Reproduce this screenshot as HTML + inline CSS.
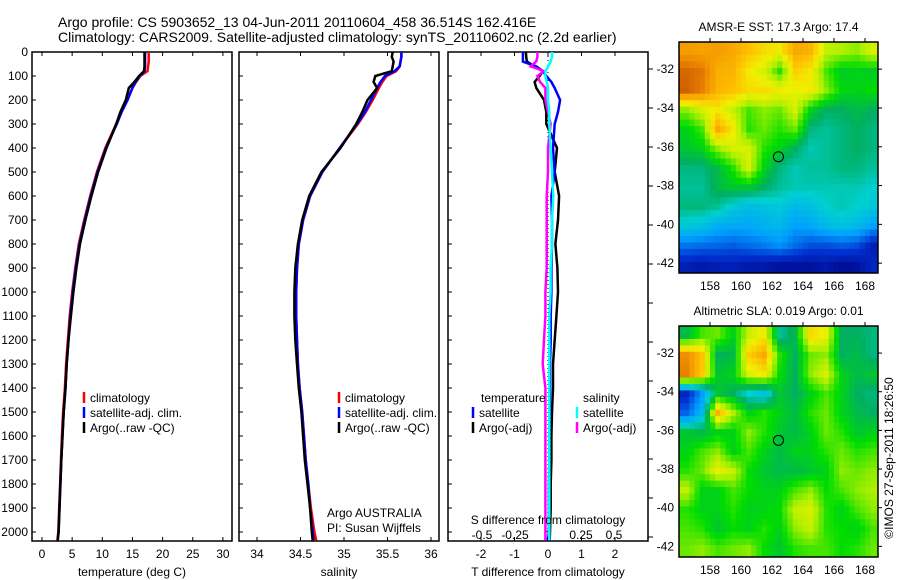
<!DOCTYPE html>
<html><head><meta charset="utf-8">
<style>
html,body{margin:0;padding:0;background:#fff;}
svg{display:block;font-family:"Liberation Sans",sans-serif;}
text{fill:#000;}
</style></head>
<body>
<svg id="chart" width="900" height="580" viewBox="0 0 900 580">
<text x="58" y="27" font-size="14">Argo profile: CS 5903652_13 04-Jun-2011 20110604_458 36.514S 162.416E</text>
<text x="58" y="42" font-size="14">Climatology: CARS2009. Satellite-adjusted climatology: synTS_20110602.nc (2.2d earlier)</text>
</svg>
<script>
const NS="http://www.w3.org/2000/svg";
const svg=document.getElementById('chart');
// ---------- data ----------
const depths=[0,20,40,60,80,100,125,150,200,250,300,400,500,600,700,800,900,1000,1100,1200,1300,1400,1500,1600,1700,1800,1900,2000,2035];
const tempClim=[17.7,17.7,17.7,17.6,17.5,16.3,15.6,15.0,14.1,13.2,12.3,10.5,9.1,8.0,7.0,6.1,5.5,5.0,4.6,4.3,4.0,3.8,3.5,3.3,3.15,3.0,2.85,2.7,2.55];
const tempSat=[17.1,17.1,17.1,17.1,17.0,16.2,15.5,15.0,14.2,13.2,12.4,10.6,9.2,8.1,7.1,6.2,5.6,5.1,4.7,4.4,4.1,3.9,3.6,3.4,3.2,3.05,2.9,2.75,2.6];
const tempArgo=[17.0,17.0,17.0,17.0,16.9,16.1,15.3,14.4,13.9,13.0,12.3,10.7,9.3,8.2,7.2,6.3,5.7,5.2,4.8,4.4,4.1,3.9,3.6,3.4,3.2,3.05,2.9,2.75,2.6];
const salClim=[35.66,35.66,35.65,35.64,35.6,35.49,35.44,35.40,35.33,35.25,35.16,34.95,34.75,34.61,34.53,34.48,34.46,34.45,34.45,34.46,34.47,34.49,34.52,34.54,34.56,34.59,34.62,34.66,34.68];
const salSat=[35.66,35.66,35.65,35.64,35.58,35.47,35.42,35.38,35.31,35.24,35.15,34.95,34.75,34.61,34.53,34.48,34.46,34.45,34.45,34.46,34.47,34.49,34.52,34.54,34.56,34.59,34.61,34.64,34.65];
const salArgo=[35.56,35.55,35.57,35.56,35.55,35.36,35.34,35.38,35.27,35.21,35.14,34.96,34.74,34.60,34.52,34.47,34.44,34.43,34.43,34.44,34.46,34.48,34.51,34.53,34.55,34.58,34.61,34.63,34.64];
const dTsat=[-0.75,-0.75,-0.75,-0.35,-0.15,-0.05,0.1,0.2,0.36,0.3,0.2,0.15,0.2,0.1,0.12,0.12,0.1,0.1,0.08,0.08,0.06,0.06,0.05,0.04,0.04,0.03,0.03,0.03,0.0];
const dTargo=[-0.66,-0.65,-0.63,-0.4,-0.15,-0.25,-0.4,-0.35,-0.12,-0.05,-0.05,0.27,0.2,0.33,0.3,0.22,0.28,0.3,0.25,0.2,0.15,0.15,0.12,0.1,0.1,0.08,0.08,0.06,0.05];
const dSsat=[0.03,0.03,0.02,0.0,-0.02,-0.02,-0.01,0.0,0.0,0.01,0.01,0.02,0.03,0.04,0.03,0.03,0.02,0.02,0.01,0.01,0.01,0.01,0.01,0.01,0.01,0.01,0.01,0.01,0.01];
const dSargo=[-0.08,-0.08,-0.09,-0.13,-0.03,-0.08,-0.06,-0.02,-0.02,0.0,0.02,0.0,0.0,-0.01,-0.01,-0.01,-0.01,-0.02,-0.02,-0.03,-0.04,-0.02,-0.02,-0.02,-0.02,-0.02,-0.02,-0.02,-0.02];
const depthTicks=[0,100,200,300,400,500,600,700,800,900,1000,1100,1200,1300,1400,1500,1600,1700,1800,1900,2000];
const tempTicks=[0,5,10,15,20,25,30];
const salTicks=[34,34.5,35,35.5,36];
const dTTicks=[-2,-1,0,1,2];
const dSTicks=[-0.5,-0.25,0,0.25,0.5];
const lonTicks=[158,160,162,164,166,168];
const latTicks=[-32,-34,-36,-38,-40,-42];
const sstGrid=[
[0.88,0.87,0.88,0.86,0.82,0.78,0.76,0.86,0.84,0.70,0.68,0.66,0.72],
[0.95,0.93,0.85,0.84,0.76,0.72,0.60,0.80,0.76,0.62,0.55,0.56,0.55],
[0.96,0.92,0.84,0.82,0.78,0.78,0.76,0.74,0.76,0.66,0.57,0.56,0.58],
[0.66,0.72,0.76,0.70,0.62,0.66,0.64,0.72,0.56,0.50,0.50,0.52,0.50],
[0.56,0.62,0.86,0.76,0.60,0.64,0.60,0.64,0.48,0.46,0.48,0.50,0.48],
[0.54,0.56,0.66,0.72,0.72,0.60,0.56,0.50,0.44,0.46,0.48,0.50,0.48],
[0.48,0.48,0.52,0.60,0.72,0.56,0.48,0.44,0.46,0.46,0.48,0.48,0.46],
[0.46,0.46,0.52,0.54,0.54,0.50,0.46,0.44,0.44,0.44,0.44,0.44,0.42],
[0.48,0.48,0.46,0.40,0.37,0.38,0.40,0.36,0.38,0.42,0.44,0.42,0.40],
[0.40,0.38,0.33,0.32,0.32,0.34,0.36,0.30,0.32,0.36,0.38,0.36,0.30],
[0.24,0.23,0.22,0.21,0.23,0.25,0.28,0.23,0.19,0.19,0.21,0.19,0.10],
[0.10,0.08,0.10,0.10,0.08,0.08,0.06,0.06,0.06,0.08,0.04,0.06,0.12]];
const slaGrid=[
[0.52,0.62,0.64,0.56,0.70,0.76,0.46,0.52,0.78,0.74,0.50,0.50,0.48],
[0.90,0.82,0.50,0.52,0.80,0.86,0.60,0.50,0.64,0.66,0.50,0.52,0.48],
[0.92,0.80,0.54,0.56,0.72,0.76,0.58,0.50,0.66,0.72,0.56,0.52,0.54],
[0.12,0.30,0.54,0.50,0.42,0.38,0.54,0.50,0.56,0.62,0.56,0.50,0.48],
[0.22,0.36,0.84,0.68,0.56,0.60,0.56,0.52,0.60,0.64,0.56,0.52,0.50],
[0.54,0.52,0.56,0.56,0.66,0.60,0.54,0.52,0.56,0.64,0.60,0.54,0.56],
[0.56,0.62,0.66,0.56,0.62,0.56,0.52,0.56,0.56,0.60,0.64,0.60,0.62],
[0.60,0.64,0.74,0.70,0.58,0.54,0.52,0.52,0.54,0.56,0.66,0.64,0.66],
[0.70,0.56,0.56,0.62,0.58,0.56,0.56,0.62,0.66,0.58,0.62,0.66,0.68],
[0.60,0.56,0.56,0.60,0.56,0.56,0.58,0.70,0.72,0.60,0.56,0.62,0.66],
[0.62,0.60,0.54,0.58,0.56,0.60,0.56,0.66,0.70,0.60,0.58,0.56,0.62],
[0.64,0.66,0.62,0.64,0.66,0.58,0.54,0.60,0.62,0.62,0.58,0.60,0.64]];
const gridLon0=156.0, gridLat0=-30.6;
const argoLon=162.416, argoLat=-36.514;

// ---------- helpers ----------
function el(tag,attrs,parent){const e=document.createElementNS(NS,tag);for(const k in attrs)e.setAttribute(k,attrs[k]);(parent||svg).appendChild(e);return e;}
function txt(x,y,s,size,anchor,parent){const t=el('text',{x:x,y:y,'font-size':size||12,'text-anchor':anchor||'start'},parent);t.textContent=s;return t;}
const yTop=52, yPer=0.24;
const yD=d=>yTop+d*yPer;
const P1={x0:32,x1:232}, P2={x0:239,x1:439}, P3={x0:448,x1:648};
const yBot=541;
const xT=v=>42+v*6.03;
const xS=v=>257+(v-34)*87;
const xDT=v=>548+v*33.5;
const xDS=v=>548+v*132;

function frame(P,name){
  const r=el('rect',{x:P.x0,y:yTop,width:P.x1-P.x0,height:yBot-yTop,fill:'none',stroke:'#000','stroke-width':1.5});
  
  
  depthTicks.forEach(d=>{el('line',{x1:P.x0,x2:P.x0+4,y1:yD(d),y2:yD(d),stroke:'#000'});});
}
function series(xf,vals,color,name,w){
  const pts=vals.map((v,i)=>xf(v).toFixed(1)+','+yD(depths[i]).toFixed(1)).join(' ');
  const p=el('polyline',{points:pts,fill:'none',stroke:color,'stroke-width':w||2.5});
  
  
}
function xticks(xf,ticks,y){
  ticks.forEach(t=>{
    const x=xf(t);
    el('line',{x1:x,x2:x,y1:yBot,y2:yBot-4,stroke:'#000'});
    el('line',{x1:x,x2:x,y1:yTop,y2:yTop+4,stroke:'#000'});
    const l=txt(x,y,String(t),12,'middle');
    
    
  });
}
function legendEntry(x,y,color,label,name){
  el('line',{x1:x,x2:x,y1:y-10,y2:y+1,stroke:color,'stroke-width':2.5});
  const t=txt(x+6,y,label,12);
  
  
}

depthTicks.forEach(d=>{const t=txt(28,yD(d)+4,String(d),12,'end');});

// panel 1
frame(P1,'temperature-panel');
xticks(xT,tempTicks,558);
series(xT,tempClim,'#ff0000','temp-climatology-line');
series(xT,tempSat,'#0000ff','temp-satellite-line');
series(xT,tempArgo,'#000000','temp-argo-line');
let t1=txt(132,576,'temperature (deg C)',12,'middle');
legendEntry(84,402,'#ff0000','climatology','legend-climatology');
legendEntry(84,417,'#0000ff','satellite-adj. clim.','legend-satellite');
legendEntry(84,432,'#000000','Argo(..raw -QC)','legend-argo');

// panel 2
frame(P2,'salinity-panel');
xticks(xS,salTicks,558);
series(xS,salClim,'#ff0000','sal-climatology-line');
series(xS,salSat,'#0000ff','sal-satellite-line');
series(xS,salArgo,'#000000','sal-argo-line');
let t2=txt(339,576,'salinity',12,'middle');
legendEntry(339,402,'#ff0000','climatology','legend-climatology-2');
legendEntry(339,417,'#0000ff','satellite-adj. clim.','legend-satellite-2');
legendEntry(339,432,'#000000','Argo(..raw -QC)','legend-argo-2');
let a1=txt(327,517,'Argo AUSTRALIA',12);
let a2=txt(327,532,'PI: Susan Wijffels',12);

// panel 3
frame(P3,'difference-panel');
for(let y=69;y<yBot;y+=39){el('line',{x1:P3.x1,x2:P3.x1+5,y1:y,y2:y,stroke:'#000'});}
el('line',{x1:xDT(0),x2:xDT(0),y1:yTop,y2:yBot,stroke:'#000','stroke-dasharray':'1,3'});
xticks(xDT,dTTicks,558);
dSTicks.forEach(t=>{const l=txt(xDS(t),539,String(t),12,'middle');});
series(xDT,dTargo,'#000000','t-diff-argo-line');
series(xDT,dTsat,'#0000ff','t-diff-satellite-line');
series(xDS,dSargo,'#ff00ff','s-diff-argo-line');
series(xDS,dSsat,'#00ffff','s-diff-satellite-line');
let t3=txt(548,576,'T difference from climatology',12,'middle');
let t4=txt(548,524,'S difference from climatology',12,'middle');
let lg1=txt(481,402,'temperature',12);
let lg2=txt(583,402,'salinity',12);
legendEntry(473,417,'#0000ff','satellite','legend-t-satellite');
legendEntry(473,432,'#000000','Argo(-adj)','legend-t-argo');
legendEntry(577,417,'#00ffff','satellite','legend-s-satellite');
legendEntry(577,432,'#ff00ff','Argo(-adj)','legend-s-argo');

// ---------- maps ----------
const stops=[[0,[0,0,128]],[0.15,[0,48,208]],[0.3,[0,160,255]],[0.42,[0,208,208]],[0.5,[0,176,96]],[0.58,[0,221,0]],[0.68,[176,240,0]],[0.75,[240,240,0]],[0.82,[255,192,0]],[0.9,[240,144,0]],[1,[192,64,0]]];
function cmap(v){v=Math.max(0,Math.min(1,v));for(let i=1;i<stops.length;i++){if(v<=stops[i][0]){const a=stops[i-1],b=stops[i];const f=(v-a[0])/(b[0]-a[0]);const c=a[1].map((q,k)=>Math.round(q+(b[1][k]-q)*f));return 'rgb('+c.join(',')+')';}}return 'rgb(192,64,0)';}
function sample(grid,r,c){
  const R=grid.length,C=grid[0].length;
  r=Math.max(0,Math.min(R-1,r));c=Math.max(0,Math.min(C-1,c));
  const r0=Math.floor(r),c0=Math.floor(c),r1=Math.min(R-1,r0+1),c1=Math.min(C-1,c0+1);
  const fr=r-r0,fc=c-c0;
  return grid[r0][c0]*(1-fr)*(1-fc)+grid[r0][c1]*(1-fr)*fc+grid[r1][c0]*fr*(1-fc)+grid[r1][c1]*fr*fc;
}
function drawMap(M,grid,title,name){
  const g=el('g',{});
  
  
  const xL=lon=>M.x0+(lon-gridLon0)*M.px;
  const yL=lat=>M.y0+(gridLat0-lat)*M.py;
  const S=3;
  for(let r=0;r<grid.length*S;r++){for(let c=0;c<grid[0].length*S;c++){
    const lon=gridLon0+c/S, lat=gridLat0-r/S;
    const x=xL(lon), y=yL(lat);
    const w=Math.min(xL(lon+1/S),M.x1)-x, h=Math.min(yL(lat-1/S),M.y1)-y;
    if(w<=0||h<=0) continue;
    const v=sample(grid,(r+0.5)/S-0.5,(c+0.5)/S-0.5);
    const cell=el('rect',{x:x.toFixed(1),y:y.toFixed(1),width:(w+0.5).toFixed(1),height:(h+0.5).toFixed(1),fill:cmap(v)},g);
    
    
  }}
  el('rect',{x:M.x0,y:M.y0,width:M.x1-M.x0,height:M.y1-M.y0,fill:'none',stroke:'#000','stroke-width':1.5},g);
  lonTicks.forEach(l=>{const x=xL(l);el('line',{x1:x,x2:x,y1:M.y0,y2:M.y0-4,stroke:'#000'},g);
    const t=txt(x,M.y1+17,String(l),12,'middle',g);});
  latTicks.forEach(l=>{const y=yL(l);el('line',{x1:M.x1,x2:M.x1+4,y1:y,y2:y,stroke:'#000'},g);
    const t=txt(M.x0-5,y+4,String(l),12,'end',g);});
  const c=el('circle',{cx:xL(argoLon),cy:yL(argoLat),r:5,fill:'none',stroke:'#000','stroke-width':1},g);
  
  
  const tt=txt((M.x0+M.x1)/2,M.y0-11,title,12,'middle',g);
  
  
}
drawMap({x0:679,x1:878,y0:42,y1:273,px:15.5,py:19.4},sstGrid,'AMSR-E SST: 17.3 Argo: 17.4','sst-map');
drawMap({x0:679,x1:878,y0:326,y1:557,px:15.5,py:19.33},slaGrid,'Altimetric SLA: 0.019 Argo: 0.01','sla-map');
const cr=txt(0,0,'©IMOS 27-Sep-2011 18:26:50',12,'middle');
cr.setAttribute('transform','translate(893,458) rotate(-90)');


</script>
</body></html>
